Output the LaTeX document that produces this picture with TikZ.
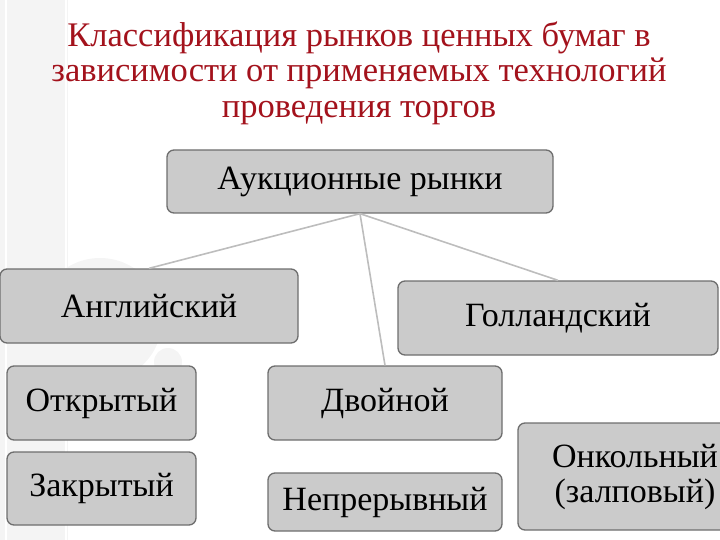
\documentclass[tikz,border=0pt]{standalone}
\usepackage{fontspec}
\setmainfont{Liberation Serif}
\usepackage{tikz}
\usetikzlibrary{positioning}
\definecolor{titlered}{HTML}{A3121C}
\definecolor{boxfill}{HTML}{CBCBCB}
\definecolor{boxline}{HTML}{6E6E6E}
\definecolor{link}{HTML}{BDBDBD}
\definecolor{band}{HTML}{F4F4F4}
\tikzset{
  market/.style={draw=boxline,fill=boxfill,line width=1.3pt,rounded corners=7pt,
    inner sep=0pt,font=\fontsize{34}{35}\selectfont,align=center},
  link/.style={draw=link,line width=1.6pt}
}

\begin{document}
\begin{tikzpicture}[x=1pt,y=-1pt]
  \useasboundingbox (0,0) rectangle (720,540);
  % slide backdrop
  \fill[band] (0,0) rectangle (68,540);
  \draw[white,line width=2pt] (6,0)--(6,540) (66,0)--(66,540);
  \fill[band] (100,320) circle (62); \fill[band] (168,362) circle (14);
  % title
  \node[text=titlered,font=\fontsize{34.5}{35.5}\selectfont,align=center] (title) at (359,73)
    {Классификация рынков ценных бумаг в\\зависимости от применяемых технологий\\проведения торгов};
  % boxes
  \node[market,minimum width=386,minimum height=63] (auction) at (360,181.5) {Аукционные рынки};
  \node[market,minimum width=298,minimum height=74] (english) at (149,306) {Английский};
  \node[market,minimum width=320,minimum height=74] (dutch) at (558,318) {Голландский};
  \node[market,minimum width=189,minimum height=74] (open) at (101.5,403) {Открытый};
  \node[market,minimum width=189,minimum height=73] (closed) at (101.5,488.5) {Закрытый};
  \node[market,minimum width=234,minimum height=74] (double) at (385,403) {Двойной};
  \node[market,minimum width=234,minimum height=58] (continuous) at (385,502) {Непрерывный};
  \node[market,minimum width=234,minimum height=107,text width=220] (call) at (635,476.5) {Онкольный\\(залповый)};
  % links
  \draw[link] (auction.south) -- (english.north);
  \draw[link] (auction.south) -- (double.north);
  \draw[link] (auction.south) -- (dutch.north);
\end{tikzpicture}
\end{document}
